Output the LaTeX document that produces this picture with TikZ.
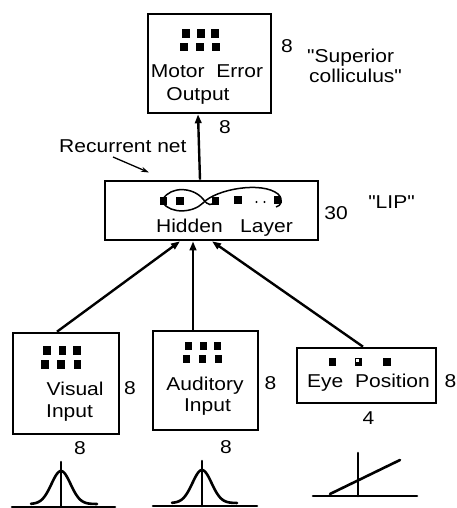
\documentclass[tikz,border=0pt]{standalone}
\usepackage{fontspec}
\setmainfont{Liberation Sans}[FakeStretch=1.13]
\newfontfamily\plainf{Liberation Sans}[FakeStretch=1.13, Ligatures=TeXOff]
\usetikzlibrary{arrows.meta}
\newcommand\unitsq[2]{\fill (#1-3.6,#2-4.2) rectangle (#1+3.6,#2+4.2);}
\begin{document}
\begin{tikzpicture}[x=1pt,y=-1pt,
  box/.style={draw, line width=2.6pt, inner sep=0pt},
  lbl/.style={font=\fontsize{18.6}{22}\selectfont, inner sep=0pt, anchor=base},
  lblw/.style={lbl, anchor=base west},
  qlbl/.style={font=\plainf\fontsize{18.6}{22}\selectfont},
  conn/.style={line width=2.4pt, -{Triangle[length=9pt,width=6.5pt]}},
  curve/.style={line width=2.6pt, line cap=round}]
\useasboundingbox (0,0) rectangle (457,508);

% boxes
\node[box, minimum width=123pt, minimum height=99pt] (top) at (209.5,63.5) {};
\node[box, minimum width=213pt, minimum height=59pt] (hid) at (211.5,210.5) {};
\node[box, minimum width=106pt, minimum height=101pt] (vis) at (66,383.5) {};
\node[box, minimum width=105pt, minimum height=99pt] (aud) at (205.5,380.5) {};
\node[box, minimum width=139pt, minimum height=55pt] (eye) at (366.5,375.5) {};

% top box content
\unitsq{186}{33.5}\unitsq{201}{33.5}\unitsq{215}{33.5}
\unitsq{184}{47}\unitsq{200}{47}\unitsq{216}{47}
\node[lbl] (t1) at (207,78) {Motor\ \ Error};
\node[lbl] (t2) at (198,100) {Output};
\node[lbl] (t8a) at (287,53) {8};
\node[lblw, qlbl] (sc1) at (307,63) {"Superior};
\node[lblw, qlbl] (sc2) at (309,83) {colliculus"};
\node[lbl] (t8b) at (225,133) {8};

% recurrent net
\node[lblw] (rn) at (59,152) {Recurrent net};
\coordinate (rnA) at (113,157);
\coordinate (rnB) at (149,172.5);
\draw[line width=1.3pt, -{Stealth[length=8pt,width=5pt]}] (rnA) -- (rnB);

% hidden layer content
\draw[line width=1.5pt] (163,199) .. controls (171,186) and (193,187) .. (203,199)
   .. controls (208,206) and (212,206) .. (216,201);
\draw[line width=1.5pt] (163,203) .. controls (171,214) and (193,213) .. (203,203)
   .. controls (216,189) and (262,181) .. (278,194)
   .. controls (284,200) and (281,206) .. (276,207);
\unitsq{163.5}{201}\unitsq{180}{201}\unitsq{215.5}{201}\unitsq{238}{200}\unitsq{277.5}{200}
\fill (256.5,202) circle (1.2pt);
\fill (264.5,202) circle (1.2pt);
\node[lbl] (hl) at (224.5,232) {Hidden\ \ \ Layer};
\node[lbl] (n30) at (336,219.5) {30};
\node[lbl, qlbl] (lip) at (391.5,208) {"LIP"};

% visual
\unitsq{47}{350.5}\unitsq{62.5}{350.5}\unitsq{77}{350.5}
\unitsq{45}{364.5}\unitsq{61}{364.5}\unitsq{77.5}{364.5}
\node[lblw] (v1) at (46.5,395) {Visual};
\node[lblw] (v2) at (46,417) {Input};
\node[lbl] (v8a) at (130,394) {8};
\node[lbl] (v8b) at (80,454) {8};

% auditory
\unitsq{188.5}{346}\unitsq{203.5}{346}\unitsq{217.5}{346}
\unitsq{186.5}{359}\unitsq{202.5}{359}\unitsq{218.5}{359}
\node[lbl] (a1) at (205,390) {Auditory};
\node[lbl] (a2) at (207.5,411) {Input};
\node[lbl] (a8a) at (270.5,389) {8};
\node[lbl] (a8b) at (226,453) {8};

% eye
\unitsq{332.5}{362}\unitsq{358.5}{362}\unitsq{387}{362}
\fill[white] (355.8,358.8) rectangle (358.8,362.2);
\node[lbl] (e1) at (368.5,387) {Eye\ \ Position};
\node[lbl] (e8) at (450.5,387) {8};
\node[lbl] (e4) at (368.5,424) {4};

% connectors
\draw[conn] ([xshift=-11.5pt]hid.north) -- ([xshift=-11.5pt]top.south);
\draw[conn] ([xshift=-9pt]vis.north) -- ([xshift=-31.5pt]hid.south);
\draw[conn] ([xshift=-12.5pt]aud.north) -- ([xshift=-18.5pt]hid.south);
\draw[conn] ([xshift=-3.5pt]eye.north) -- ([xshift=0.5pt]hid.south);

% bottom graphs
\draw[curve] (12,507) -- (115,507);
\draw[curve] (61,462) -- (61,507);
\draw[curve] plot[domain=31:97, samples=60, smooth] (\x, {504 - 33*exp(-((\x-61)/13.5)^2)});
\draw[curve] (153,506) -- (257,506);
\draw[curve] (202,461) -- (202,506);
\draw[curve] plot[domain=172:237, samples=60, smooth] (\x, {503 - 33*exp(-((\x-202)/13.5)^2)});
\draw[curve] (313,496) -- (417,496);
\draw[curve] (358,453) -- (358,496);
\draw[curve] (330,494) -- (400,460);
\end{tikzpicture}
\end{document}
